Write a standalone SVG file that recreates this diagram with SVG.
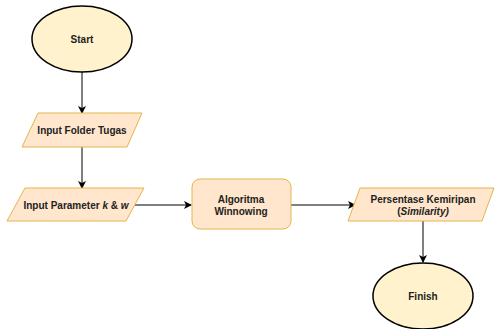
<svg xmlns="http://www.w3.org/2000/svg" width="495" height="329" viewBox="0 0 495 329">
<defs>
<marker id="arr" markerWidth="8" markerHeight="8" refX="7" refY="4" orient="auto" markerUnits="userSpaceOnUse">
<path d="M0,0 L8,4 L0,8 L2,4 Z" fill="#000"/>
</marker>
<style>
.term{fill:#FFF2CC;stroke:#000;stroke-width:1.5}
.io{fill:#FFE6CC;stroke:#E6B54A;stroke-width:1}
.proc{fill:#FFE6CC;stroke:#E6B54A;stroke-width:1}
.t{font-family:"Liberation Sans",Arial,sans-serif;font-size:10px;font-weight:bold;fill:#222;text-anchor:middle}
.c{stroke:#000;stroke-width:1;fill:none;marker-end:url(#arr)}
</style>
</defs>
<rect width="495" height="329" fill="#fff"/>
<g id="connectors">
<line class="c" x1="82" y1="72" x2="82" y2="113"/>
<line class="c" x1="82" y1="147" x2="82" y2="188"/>
<line class="c" x1="135" y1="205" x2="191" y2="205"/>
<line class="c" x1="291" y1="205" x2="355" y2="205"/>
<line class="c" x1="423" y1="221" x2="423" y2="262"/>
</g>
<g id="start">
<ellipse class="term" cx="82" cy="39" rx="50" ry="33"/>
<text class="t" x="82" y="43">Start</text>
</g>
<g id="input-folder">
<polygon class="io" points="38,113 142,113 127,147 22,147"/>
<text class="t" x="82" y="134">Input Folder Tugas</text>
</g>
<g id="input-param">
<polygon class="io" points="25,188 144,188 126,221 7,221"/>
<text class="t" x="76" y="209">Input Parameter <tspan font-style="italic">k</tspan> &amp; <tspan font-style="italic">w</tspan></text>
</g>
<g id="algoritma">
<rect class="proc" x="192" y="179" width="99" height="50" rx="8"/>
<text class="t" x="241" y="203">Algoritma</text>
<text class="t" x="241" y="215">Winnowing</text>
</g>
<g id="persentase">
<polygon class="io" points="360,188 494,188 482,221 348,221"/>
<text class="t" x="423" y="203">Persentase Kemiripan</text>
<text class="t" x="423" y="215">(<tspan font-style="italic">Similarity)</tspan></text>
</g>
<g id="finish">
<ellipse class="term" cx="423" cy="296" rx="50" ry="33"/>
<text class="t" x="423" y="300">Finish</text>
</g>
</svg>
